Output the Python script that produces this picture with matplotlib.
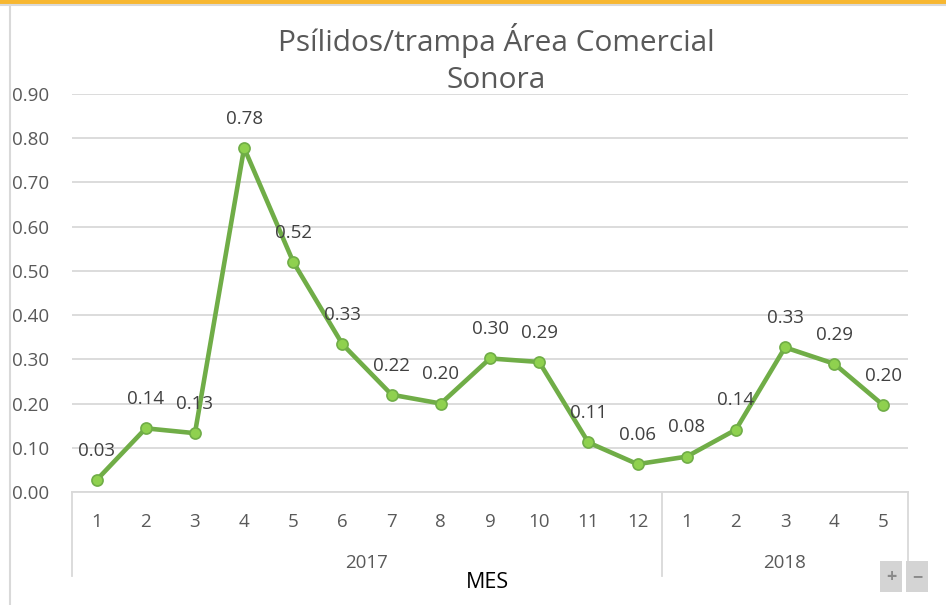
import matplotlib
matplotlib.use("Agg")
import matplotlib.pyplot as plt
from matplotlib.lines import Line2D
from matplotlib.patches import Rectangle

months = ["1", "2", "3", "4", "5", "6", "7", "8", "9", "10", "11", "12", "1", "2", "3", "4", "5"]
years = ["2017", "2018"]
year_counts = [12, 5]
values = [0.027, 0.144, 0.133, 0.778, 0.520, 0.334, 0.220, 0.200, 0.302, 0.294,
          0.112, 0.063, 0.080, 0.141, 0.327, 0.290, 0.196]
yticks = [0.0, 0.1, 0.2, 0.3, 0.4, 0.5, 0.6, 0.7, 0.8, 0.9]

plt.rcParams['font.family'] = ['Open Sans', 'DejaVu Sans']

W, H = 946, 605
fig = plt.figure(figsize=(W / 100, H / 100), dpi=100)
fig.patch.set_facecolor('white')

# frame decorations
fig.add_artist(Rectangle((0, 1 - 4 / H), 1, 4 / H, transform=fig.transFigure,
                         facecolor='#f7b731', edgecolor='none'))
fig.add_artist(Line2D([0, 1], [1 - 5 / H, 1 - 5 / H], transform=fig.transFigure,
                      color='#d9d9d9', lw=1.5))
fig.add_artist(Line2D([10 / W, 10 / W], [0, 1 - 5 / H], transform=fig.transFigure,
                      color='#d9d9d9', lw=1.5))

x0, x1 = 72, 908
ytop, ybot = 94, 492
ax_h = ybot - ytop
ax = fig.add_axes([x0 / W, 1 - ybot / H, (x1 - x0) / W, ax_h / H])
n = len(values)
xs = list(range(n))
ax.set_xlim(-0.5, n - 0.5)
ax.set_ylim(0, 0.9)
ax.set_yticks(yticks)
ax.set_yticklabels([f"{v:.2f}" for v in yticks], fontsize=13.5, color='#595959')
ax.tick_params(axis='y', length=0, pad=(x0 - 12) * 0.72)
for lbl in ax.get_yticklabels():
    lbl.set_horizontalalignment('left')
ax.set_xticks([])
ax.grid(axis='y', color='#d9d9d9', lw=1.3)
ax.set_axisbelow(True)
for s in ['top', 'right', 'left']:
    ax.spines[s].set_visible(False)
ax.spines['bottom'].set_color('#d9d9d9')
ax.spines['bottom'].set_linewidth(1.3)

ax.plot(xs, values, color='#70ad47', lw=3.3, marker='o', markersize=8,
        markerfacecolor='#8fd14f', markeredgecolor='#70ad47', markeredgewidth=1.2,
        zorder=3)
for x, v in zip(xs, values):
    ax.annotate(f"{v:.2f}", (x, v), xytext=(0, 21), textcoords='offset points',
                ha='center', va='center', fontsize=13.5, color='#404040')

def yax(px):
    return -(px - ybot) / ax_h

# category axis
trans = ax.get_xaxis_transform()
for x, m in zip(xs, months):
    ax.text(x, yax(522), m, transform=trans, ha='center', va='center',
            fontsize=13.5, color='#595959')
start = 0
bounds = [-0.5]
for yr, c in zip(years, year_counts):
    mid = start + (c - 1) / 2
    ax.text(mid, yax(563), yr, transform=trans, ha='center', va='center',
            fontsize=13.5, color='#595959')
    start += c
    bounds.append(start - 0.5)
for b in bounds:
    ax.add_line(Line2D([b, b], [0, yax(576)], transform=trans, color='#d9d9d9',
                       lw=1.3, clip_on=False))

fig.text(487 / W, 1 - 583 / H, "MES", ha='center', va='center', fontsize=15.5, color='black')
fig.text(496 / W, 1 - 40 / H, "Psílidos/trampa Área Comercial", ha='center', va='center',
         fontsize=21.5, color='#595959')
fig.text(496 / W, 1 - 80 / H, "Sonora", ha='center', va='center', fontsize=21.5, color='#595959')

# zoom buttons
for bx, sym in [(880, '+'), (906, '−')]:
    fig.add_artist(Rectangle((bx / W, 1 - 592 / H), 22 / W, 31 / H, transform=fig.transFigure,
                             facecolor='#d4d4d4', edgecolor='none'))
    fig.text((bx + 11) / W, 1 - 577 / H, sym, ha='center', va='center', fontsize=13,
             color='#8a8a8a', fontweight='bold')

fig.savefig("out.png", dpi=100, facecolor='white')
